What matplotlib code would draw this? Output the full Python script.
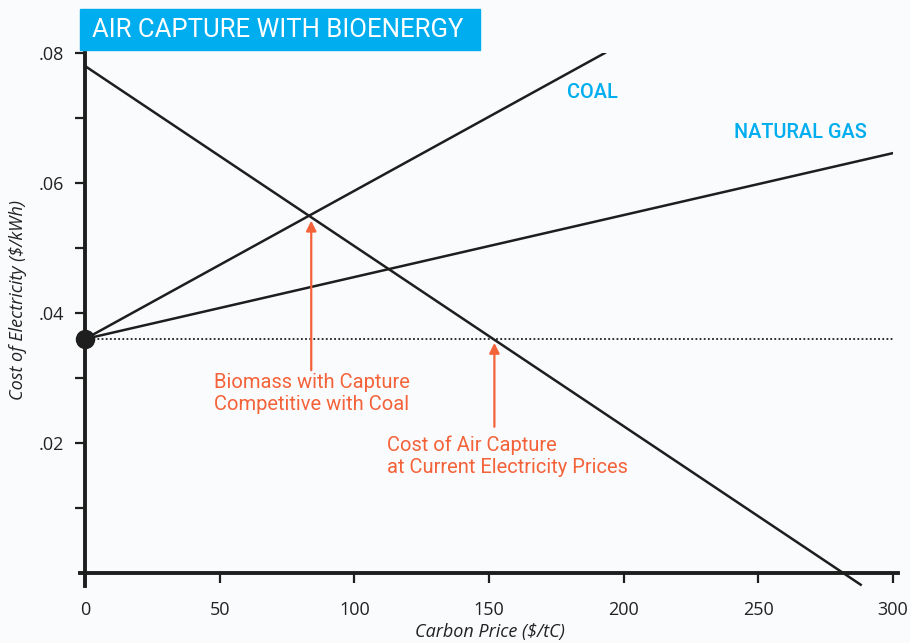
import numpy as np
import matplotlib.pyplot as plt
from matplotlib.patches import Rectangle

# data
carbon_price = np.array([0, 300])
base_cost = 0.036
coal_end = [0, 193]
coal_cost = [0.036, 0.080]
gas_end = [0, 300]
gas_cost = [0.036, 0.0646]
air_end = [0, 288]
air_cost = [0.078, -0.0018]

arrow_x = [84, 152]
arrow_tip = [0.0542, 0.0354]
arrow_base = [0.0312, 0.0225]
notes = ["Biomass with Capture\nCompetitive with Coal",
         "Cost of Air Capture\nat Current Electricity Prices"]
note_x = [48, 112]
note_y = [0.0307, 0.0211]

x_ticks = [0, 50, 100, 150, 200, 250, 300]
y_ticks = [0.02, 0.04, 0.06, 0.08]
y_labels = [".02", ".04", ".06", ".08"]
y_minor = [0.01, 0.03, 0.05, 0.07]

bg = "#fafbfc"
ink = "#1e1e1e"
red = "#f4623a"
blue = "#00aeef"

plt.rcParams['font.family'] = ['Open Sans', 'DejaVu Sans']

fig = plt.figure(figsize=(9.1, 6.43), dpi=100, facecolor=bg)
ax = fig.add_axes([85 / 910, (643 - 586) / 643, (893 - 85) / 910, (586 - 53) / 643])
ax.set_facecolor(bg)
ax.set_xlim(0, 300)
ax.set_ylim(-0.002, 0.08)

ax.plot(coal_end, coal_cost, color=ink, lw=1.8)
ax.plot(gas_end, gas_cost, color=ink, lw=1.8)
ax.plot(air_end, air_cost, color=ink, lw=1.8, clip_on=False)
ax.plot(carbon_price, [base_cost, base_cost], color=ink, lw=1.3, ls=(0, (1, 1.3)))
ax.plot([0], [base_cost], 'o', color=ink, ms=13, clip_on=False, zorder=5)

for x, tip, base in zip(arrow_x, arrow_tip, arrow_base):
    ax.annotate("", xy=(x, tip), xytext=(x, base),
                arrowprops=dict(arrowstyle="-|>", color=red, lw=1.6,
                                mutation_scale=15, shrinkA=0, shrinkB=0))
for txt, x, y in zip(notes, note_x, note_y):
    ax.text(x, y, txt, color=red, fontsize=14.5, va="top", ha="left",
            linespacing=1.2, family=['Roboto', 'DejaVu Sans'])

ax.text(179, 0.0740, "COAL", color=blue, fontsize=14.3, va="center",
        family=['Roboto', 'DejaVu Sans'], fontweight="medium")
ax.text(241, 0.0677, "NATURAL GAS", color=blue, fontsize=14.3, va="center",
        family=['Roboto', 'DejaVu Sans'], fontweight="medium")

for s in ["top", "right"]:
    ax.spines[s].set_visible(False)
ax.spines["bottom"].set_position(("data", 0))
ax.spines["left"].set_linewidth(2.8)
ax.spines["bottom"].set_linewidth(2.8)
ax.spines["left"].set_color(ink)
ax.spines["bottom"].set_color(ink)
ax.spines["bottom"].set_bounds(-2, 302)

ax.set_xticks(x_ticks)
ax.set_xticklabels([str(v) for v in x_ticks])
ax.set_yticks(y_ticks)
ax.set_yticklabels(y_labels)
ax.set_yticks(y_minor, minor=True)
ax.tick_params(axis="x", direction="out", length=7, width=1.6, color=ink,
               labelsize=13, labelcolor="#222222", pad=13)
ax.tick_params(axis="y", which="both", direction="out", length=7, width=1.6,
               color=ink, labelsize=13, labelcolor="#222222", pad=8)

fig.text(490 / 910, 1 - 632 / 643, "Carbon Price ($/tC)", ha="center", va="center",
         fontsize=13, style="italic", color="#222222")
fig.text(18 / 910, 1 - 300 / 643, "Cost of Electricity ($/kWh)", ha="center", va="center",
         rotation=90, fontsize=13, style="italic", color="#222222")

fig.patches.append(Rectangle((80 / 910, 1 - 50 / 643), 400 / 910, 41 / 643,
                             transform=fig.transFigure, color=blue, zorder=0))
fig.text(92 / 910, 1 - 30 / 643, "AIR CAPTURE WITH BIOENERGY", color="white",
         fontsize=18.5, va="center", ha="left", family=['Roboto', 'DejaVu Sans'])

fig.savefig("out.png", dpi=100, facecolor=bg)
